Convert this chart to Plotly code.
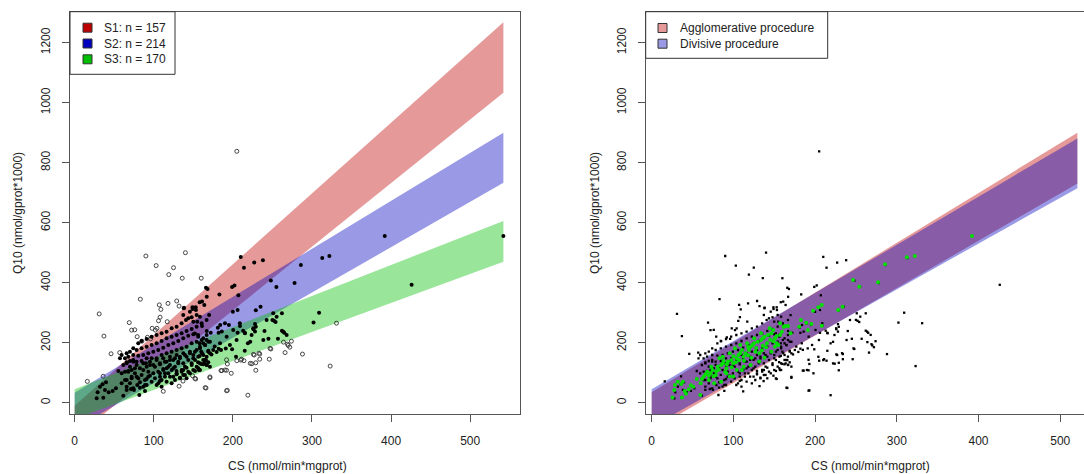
import plotly.graph_objects as go

W, H = 1084, 474

# ---------------- data ----------------
cs_ticks = [0, 100, 200, 300, 400, 500]
q10_ticks = [0, 200, 400, 600, 800, 1000, 1200]

cluster_labels = ["S1: n = 157", "S2: n = 214", "S3: n = 170"]
cluster_rgb = ["190,0,0", "0,0,190", "0,190,0"]
cluster_band_x = [0, 542]
cluster_upper = [[-10, 1268], [33, 900], [45, 606]]
cluster_lower = [[-116, 1033], [-86, 733], [-54, 470]]

proc_labels = ["Agglomerative procedure", "Divisive procedure"]
proc_rgb = ["190,0,0", "0,0,190"]
proc_band_x = [0, 521]
proc_upper = [[35, 900], [45, 881]]
proc_lower = [[-92, 731], [-80, 715]]

# points drawn filled in the left panel
filled_points = [
    (27.8, 14.6), (36.2, 16.8), (29.0, 34.6), (32.0, 53.5), (35.3, 61.3), (39.6, 68.0), (38.3, 42.4),
    (43.0, 34.6), (48.0, 39.1), (52.2, 48.0), (61.5, 23.5), (65.7, 42.4), (71.2, 45.7), (75.0, 42.4),
    (81.7, 25.7), (79.2, 59.0), (65.7, 75.7), (72.0, 81.3), (78.3, 86.8), (84.6, 92.4), (91.0, 79.0),
    (97.3, 70.2), (103.6, 59.0), (107.8, 86.8), (114.1, 98.0), (120.5, 86.8), (126.8, 75.7), (133.1, 83.5),
    (139.4, 92.4), (145.7, 98.0), (152.1, 105.7), (158.4, 109.0), (166.8, 125.7), (171.0, 120.2),
    (168.9, 134.6), (162.6, 128.0), (147.9, 125.7), (141.5, 116.8), (137.3, 109.0), (128.9, 105.7),
    (124.7, 114.6), (118.4, 120.2), (112.0, 112.4), (105.7, 103.5), (99.4, 98.0), (93.1, 103.5),
    (86.8, 109.0), (82.5, 114.6), (76.2, 114.6), (72.0, 109.0), (67.8, 105.7), (63.6, 103.5), (59.4, 98.0),
    (55.2, 105.7), (61.5, 125.7), (65.7, 134.6), (69.9, 139.0), (74.1, 142.4), (78.3, 136.8), (84.6, 139.0),
    (90.1, 131.3), (95.2, 125.7), (101.5, 120.2), (107.8, 128.0), (114.1, 136.8), (120.5, 142.4),
    (126.8, 148.0), (133.1, 153.5), (139.4, 159.0), (145.7, 164.6), (152.1, 170.2), (158.4, 181.3),
    (164.7, 192.4), (168.9, 203.5), (162.6, 214.6), (156.3, 220.2), (150.0, 228.0), (143.6, 223.5),
    (137.3, 214.6), (131.0, 205.7), (124.7, 198.0), (118.4, 192.4), (112.0, 183.5), (105.7, 175.7),
    (99.4, 170.2), (93.1, 164.6), (86.8, 159.0), (80.4, 156.8), (74.1, 159.0), (67.8, 153.5), (63.6, 148.0),
    (78.3, 175.7), (84.6, 181.3), (91.0, 186.8), (97.3, 192.4), (103.6, 198.0), (109.9, 205.7),
    (116.2, 214.6), (122.6, 220.2), (128.9, 225.7), (135.2, 231.3), (141.5, 239.0), (147.9, 245.7),
    (154.2, 253.5), (160.5, 264.6), (166.8, 275.7), (150.0, 270.2), (143.6, 281.3), (137.3, 292.4),
    (135.2, 264.6), (128.9, 253.5), (122.6, 248.0), (116.2, 236.8), (109.9, 231.3), (103.6, 225.7),
    (97.3, 220.2), (91.0, 212.4), (84.6, 205.7), (80.4, 198.0), (138.2, 316.8), (149.1, 312.4),
    (153.3, 309.0), (140.7, 275.7), (145.7, 303.5), (158.4, 286.8), (69.9, 170.2), (74.1, 181.3),
    (65.7, 164.6), (57.3, 148.0), (59.4, 159.0), (91.0, 148.0), (97.3, 148.0), (103.6, 148.0),
    (109.9, 159.0), (116.2, 164.6), (122.6, 170.2), (128.9, 175.7), (135.2, 181.3), (141.5, 186.8),
    (147.9, 198.0), (154.2, 203.5), (160.5, 209.0), (166.8, 225.7), (131.0, 136.8), (137.3, 131.3),
    (143.6, 142.4), (150.0, 148.0), (156.3, 153.5), (162.6, 159.0), (168.9, 170.2), (107.8, 72.4),
    (101.5, 81.3), (95.2, 90.2), (88.9, 59.0), (82.5, 68.0), (116.2, 70.2), (122.6, 64.6), (109.9, 53.5),
    (128.9, 94.6), (135.2, 103.5), (158.4, 131.3), (164.7, 142.4), (156.3, 114.6), (82.5, 50.2), (88.9, 39.1),
    (65.7, 131.3), (69.9, 120.2), (74.1, 136.8), (78.3, 125.7), (86.8, 131.3), (91.0, 120.2), (95.2, 136.8),
    (99.4, 125.7), (103.6, 142.4), (107.8, 131.3), (112.0, 148.0), (116.2, 136.8), (120.5, 153.5),
    (124.7, 142.4), (128.9, 159.0), (133.1, 148.0), (137.3, 164.6), (141.5, 153.5), (145.7, 170.2),
    (150.0, 159.0), (154.2, 175.7), (158.4, 186.8), (162.6, 198.0), (166.8, 209.0), (67.8, 103.5),
    (72.0, 86.8), (76.2, 98.0), (80.4, 81.3), (88.9, 75.7), (93.1, 86.8), (105.7, 64.6), (109.9, 75.7),
    (114.1, 86.8), (118.4, 98.0), (122.6, 109.0), (126.8, 120.2), (131.0, 131.3), (135.2, 109.0),
    (139.4, 120.2), (143.6, 103.5), (147.9, 131.3), (152.1, 142.4), (63.6, 75.7), (59.4, 64.6), (65.7, 53.5),
    (69.9, 64.6), (74.1, 48.0), (86.8, 53.5), (91.0, 59.0), (107.8, 98.0), (112.0, 109.0), (116.2, 114.6),
    (120.5, 125.7), (124.7, 86.8), (128.9, 98.0), (133.1, 81.3), (137.3, 92.4), (141.5, 81.3),
    (150.0, 109.0), (154.2, 120.2), (162.6, 142.4), (166.8, 153.5), (171.0, 164.6), (175.2, 175.7),
    (183.7, 198.0), (192.1, 220.2), (200.5, 242.4), (208.8, 264.6), (179.5, 169.1), (196.3, 192.4),
    (204.7, 209.0), (215.3, 231.3), (225.8, 248.0), (242.7, 275.7), (255.3, 286.8), (223.7, 225.7),
    (238.5, 209.0), (263.7, 236.8), (147.9, 284.6), (154.2, 292.4), (163.9, 325.7),
    (210, 486), (214, 450), (227, 467), (238, 475), (199, 386), (202, 391), (166, 383), (168, 379),
    (167, 353), (183, 361), (207, 358), (158, 335), (161, 337), (248, 407), (255, 386), (278, 399),
    (286, 459), (313, 482), (322, 489), (392, 556), (426, 393), (542, 556), (153, 318), (149, 318), (138, 315),
    (235, 320), (229, 308), (251, 298), (262, 298), (309, 300), (302, 267), (170, 292), (200, 303),
    (206, 309), (184, 259), (190, 265), (195, 259), (209, 256), (228, 262), (229, 253), (250, 276),
    (252, 273), (254, 269), (240, 239), (262, 240), (265, 233), (268, 226), (257, 213), (245, 213),
    (181, 250), (182, 233), (186, 237), (172, 233), (167, 239), (206, 233), (213, 240), (215, 233),
    (226, 245), (228, 237), (222, 203), (219, 198), (215, 173), (199, 178), (191, 181), (182, 180),
    (185, 176), (177, 187), (169, 173), (171, 203), (165, 192), (158, 198), (156, 226), (152, 231),
    (161, 256), (155, 270), (160, 170), (161, 165), (173, 161), (166, 142), (158, 156), (156, 135),
    (160, 129), (164, 131), (167, 126), (157, 109), (204, 153),
]

# points drawn as open circles in the left panel
open_points = [
    (90, 489), (140, 500), (103, 457), (125, 450), (119, 427), (136, 415), (160, 415), (83, 345),
    (107, 326), (109, 311), (118, 331), (129, 339), (132, 322), (31, 296), (69, 267), (76, 243),
    (72, 242), (106, 273), (108, 285), (98, 248), (104, 248), (102, 242), (117, 270), (37, 222),
    (79, 220), (92, 218), (85, 205), (96, 213), (46, 163), (57, 167), (36, 88), (16, 71), (219, 25),
    (192, 40), (165, 50), (112, 38), (132, 55), (137, 72), (149, 90), (152, 81), (171, 86), (185, 107),
    (198, 98), (192, 108), (205, 140), (211, 145), (224, 130), (229, 108), (226, 161), (234, 162),
    (247, 181), (234, 145), (246, 145), (266, 167), (270, 191), (272, 185), (274, 205), (288, 162),
    (331, 265), (323, 122), (264, 202), (269, 195), (248, 179), (233, 165), (229, 133), (227, 159),
    (222, 131), (193, 129), (192, 143), (190, 109), (186, 107), (171, 83), (153, 79), (166, 49),
    (193, 41), (214, 140), (210, 142), (205, 838),
]

# points highlighted in green in the right panel
green_points = [
    (25.5, 16.9), (37.0, 16.9), (59.5, 25.8), (27.6, 42.4), (40.4, 39.1), (45.5, 44.6), (51.0, 53.5),
    (28.5, 59.1), (36.1, 62.4), (31.9, 70.2), (38.2, 70.2), (55.2, 79.1), (61.6, 79.1), (63.7, 86.9),
    (68.0, 103.5), (72.2, 98.0), (74.4, 109.1), (78.6, 92.4), (80.7, 120.2), (85.0, 125.7), (87.1, 131.3),
    (91.4, 114.6), (93.5, 136.9), (97.7, 142.4), (99.9, 131.3), (104.1, 148.0), (106.2, 159.1),
    (108.4, 164.6), (110.5, 175.7), (112.6, 153.5), (114.7, 164.6), (119.0, 175.7), (121.1, 186.8),
    (123.2, 192.4), (125.4, 198.0), (129.6, 203.5), (133.9, 209.1), (136.0, 214.6), (138.1, 220.2),
    (142.4, 225.7), (146.6, 231.3), (148.7, 242.4), (150.9, 214.6), (153.0, 198.0), (155.1, 192.4),
    (157.2, 225.7), (159.4, 236.8), (161.5, 253.5), (163.6, 255.7), (167.0, 255.7), (170.0, 231.3),
    (180.6, 253.5), (182.7, 275.7), (189.1, 266.8), (191.2, 242.4), (195.5, 262.4), (197.6, 306.8),
    (204.0, 317.9), (208.2, 325.7), (208.2, 256.8), (228.2, 309.1), (233.7, 320.2), (246.5, 409.1),
    (254.1, 386.8), (277.1, 401.3), (285.6, 461.3), (312.4, 484.6), (322, 489), (392, 556),
    (91.4, 98.0), (85.0, 70.2), (76.5, 64.6), (70.1, 75.7), (99.9, 86.9), (110.5, 109.1), (121.1, 125.7),
    (131.7, 136.9), (138.1, 150.2), (146.6, 170.2), (150.9, 186.8), (82.9, 148.0), (95.6, 164.6),
    (102.0, 181.3), (108.4, 192.4), (116.9, 198.0), (125.4, 214.6), (133.9, 231.3), (144.5, 248.0),
    (157.2, 264.6), (95.6, 86.9), (104.1, 109.1), (112.6, 120.2), (87.1, 153.5),
    (66, 95), (73, 120), (79, 105), (88, 140), (92, 128), (98, 118), (103, 135), (107, 142), (113, 140),
    (118, 158), (122, 150), (127, 170), (132, 165), (136, 190), (141, 198), (145, 210), (149, 205),
    (153, 222), (118, 186), (100, 155), (90, 102), (82, 110), (76, 88), (70, 90), (60, 65), (48, 58),
    (42, 30), (135, 175), (140, 185), (128, 182),
]

cs_filled = [p[0] for p in filled_points]
q10_filled = [p[1] for p in filled_points]
cs_open = [p[0] for p in open_points]
q10_open = [p[1] for p in open_points]
cs_green = [p[0] for p in green_points]
q10_green = [p[1] for p in green_points]

# ---------------- layout helpers ----------------
FONT = "Liberation Sans, Arial, sans-serif"
TXT = "#222222"
AX = "#555555"


def px(x):
    return x / W


def py(y):
    return 1 - y / H


fig = go.Figure()

# left panel bands
for lab, rgb, up, lo in zip(cluster_labels, cluster_rgb, cluster_upper, cluster_lower):
    x0, x1 = cluster_band_x
    fig.add_trace(go.Scatter(
        x=[x0, x1, x1, x0, x0], y=[lo[0], lo[1], up[1], up[0], lo[0]],
        mode="lines", fill="toself", fillcolor=f"rgba({rgb},0.4)",
        line=dict(width=0, color=f"rgba({rgb},0)"), hoverinfo="skip",
        showlegend=False, xaxis="x", yaxis="y"))

fig.add_trace(go.Scatter(
    x=cs_open, y=q10_open, mode="markers", showlegend=False, xaxis="x", yaxis="y",
    marker=dict(symbol="circle-open", size=4, color="#333333", line=dict(width=0.9, color="#333333"))))
fig.add_trace(go.Scatter(
    x=cs_filled, y=q10_filled, mode="markers", showlegend=False, xaxis="x", yaxis="y",
    marker=dict(symbol="circle", size=4, color="#000000", line=dict(width=0))))

# right panel bands
for lab, rgb, up, lo in zip(proc_labels, proc_rgb, proc_upper, proc_lower):
    x0, x1 = proc_band_x
    fig.add_trace(go.Scatter(
        x=[x0, x1, x1, x0, x0], y=[lo[0], lo[1], up[1], up[0], lo[0]],
        mode="lines", fill="toself", fillcolor=f"rgba({rgb},0.4)",
        line=dict(width=0, color=f"rgba({rgb},0)"), hoverinfo="skip",
        showlegend=False, xaxis="x2", yaxis="y2"))

fig.add_trace(go.Scatter(
    x=cs_filled + cs_open, y=q10_filled + q10_open, mode="markers", showlegend=False,
    xaxis="x2", yaxis="y2",
    marker=dict(symbol="square", size=2.3, color="#000000", line=dict(width=0))))
fig.add_trace(go.Scatter(
    x=cs_green, y=q10_green, mode="markers", showlegend=False, xaxis="x2", yaxis="y2",
    marker=dict(symbol="circle", size=4, color="#00e000", line=dict(width=0))))

axis_common = dict(
    showgrid=False, zeroline=False, showline=True, linecolor=AX, linewidth=1,
    ticks="outside", ticklen=7, tickcolor=AX, tickwidth=1,
    tickfont=dict(family=FONT, size=12, color=TXT),
)

fig.update_layout(
    width=W, height=H, margin=dict(l=0, r=0, t=0, b=0),
    paper_bgcolor="white", plot_bgcolor="white", showlegend=False,
    xaxis=dict(domain=[px(70), px(520)], range=[-5.9, 563], anchor="y", mirror=True,
               tickvals=cs_ticks, ticklabelstandoff=9, **axis_common),
    yaxis=dict(domain=[py(414), py(11.7)], range=[-37.7, 1303.4], anchor="x", mirror=True,
               tickvals=q10_ticks, tickangle=-90, ticklabelstandoff=7, **axis_common),
    xaxis2=dict(domain=[px(645.7), 1.0], range=[-7.3, 529.1], anchor="y2", mirror=True,
                tickvals=cs_ticks, ticklabelstandoff=9, **axis_common),
    yaxis2=dict(domain=[py(414), py(11.7)], range=[-37.7, 1303.4], anchor="x2", mirror=False,
                tickvals=q10_ticks, tickangle=-90, ticklabelstandoff=7, **axis_common),
)

annotations = []
shapes = []
xtitle = "CS (nmol/min*mgprot)"
ytitle = "Q10 (nmol/gprot*1000)"
for xc, yl in [(287, 18), (870, 595)]:
    annotations.append(dict(x=px(xc), y=py(465.5), xref="paper", yref="paper", text=xtitle,
                            showarrow=False, xanchor="center", yanchor="middle",
                            font=dict(family=FONT, size=12, color=TXT)))
    annotations.append(dict(x=px(yl), y=py(213), xref="paper", yref="paper", text=ytitle,
                            textangle=-90, showarrow=False, xanchor="center", yanchor="middle",
                            font=dict(family=FONT, size=12, color=TXT)))

# left legend
shapes.append(dict(type="rect", xref="paper", yref="paper", x0=px(70), x1=px(175),
                   y0=py(74.3), y1=py(11.7), line=dict(color="#333333", width=1), fillcolor="white"))
for i, (lab, rgb) in enumerate(zip(cluster_labels, cluster_rgb)):
    yc = 27.7 + i * 15.8
    shapes.append(dict(type="rect", xref="paper", yref="paper", x0=px(83), x1=px(92),
                       y0=py(yc + 4.5), y1=py(yc - 4.5), line=dict(color="#333333", width=1),
                       fillcolor=f"rgb({rgb})"))
    annotations.append(dict(x=px(102), y=py(yc), xref="paper", yref="paper", text=lab,
                            showarrow=False, xanchor="left", yanchor="middle",
                            font=dict(family=FONT, size=12, color=TXT)))

# right legend
shapes.append(dict(type="rect", xref="paper", yref="paper", x0=px(645.7), x1=px(827.7),
                   y0=py(58.3), y1=py(11.7), line=dict(color="#333333", width=1), fillcolor="white"))
for i, (lab, rgb) in enumerate(zip(proc_labels, proc_rgb)):
    yc = 28 + i * 15.7
    shapes.append(dict(type="rect", xref="paper", yref="paper", x0=px(658), x1=px(667),
                       y0=py(yc + 4.5), y1=py(yc - 4.5), line=dict(color="#333333", width=1),
                       fillcolor=f"rgba({rgb},0.4)"))
    annotations.append(dict(x=px(677.5), y=py(yc), xref="paper", yref="paper", text=lab,
                            showarrow=False, xanchor="left", yanchor="middle",
                            font=dict(family=FONT, size=12, color=TXT)))

fig.update_layout(annotations=annotations, shapes=shapes)
fig.write_html("out.html")
